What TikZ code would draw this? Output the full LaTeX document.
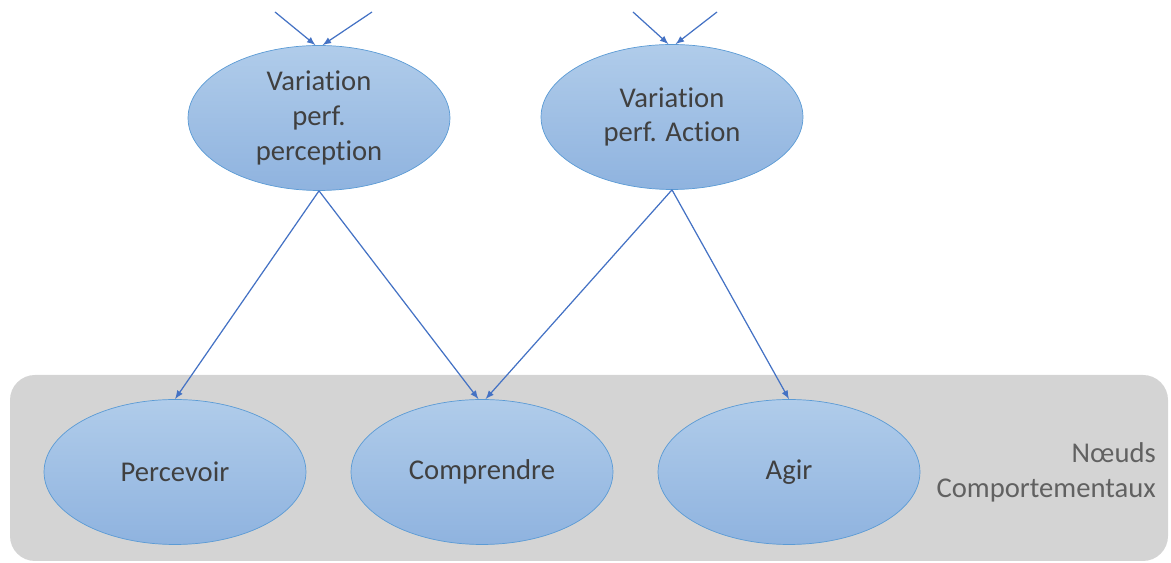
\documentclass[tikz,border=0pt]{standalone}
\usepackage{fontspec}
\setmainfont[Ligatures=NoCommon]{Carlito}
\usetikzlibrary{shapes.geometric}
\definecolor{arrowblue}{HTML}{4472C4}
\definecolor{ellborder}{HTML}{5B9BD5}
\definecolor{elltop}{HTML}{B0CCEA}
\definecolor{ellbot}{HTML}{8FB3DF}
\definecolor{txtgray}{HTML}{404040}
\definecolor{boxgray}{HTML}{D4D4D4}
\tikzset{>=latex}
\tikzset{
  noeud/.style={ellipse, draw=ellborder, thin, top color=elltop, bottom color=ellbot,
    minimum width=5.24cm, minimum height=2.9cm, align=center, text=txtgray,
    font=\fontsize{16.3}{19.8}\selectfont, inner sep=0pt},
  lien/.style={->, color=arrowblue, line width=0.7pt}
}

\begin{document}
\begin{tikzpicture}[x=0.02cm, y=-0.02cm]
\useasboundingbox (0,0) rectangle (1171,563);

% zone comportementale
\fill [boxgray, rounded corners=0.5cm] (10,375) rectangle (1168,561);
\node [anchor=east, align=right, text=black!62, font=\fontsize{16.3}{19.8}\selectfont] (legende) at (1162,472) {N\oe uds\\Comportementaux};

% noeuds de variation
\node [noeud] (varperc) at (319,118) {Variation\\perf.\\perception};
\node [noeud] (varact) at (672,117) {Variation\\perf. Action};

% noeuds comportementaux
\node [noeud] (percevoir) at (175,472) {Percevoir};
\node [noeud] (comprendre) at (482,472) {Comprendre};
\node [noeud] (agir) at (789,472) {Agir};

% entrees venant d'en haut
\coordinate (hautA) at (275,12);
\coordinate (hautB) at (372,12);
\coordinate (hautC) at (633,12);
\coordinate (hautD) at (717,12);
\draw [lien] (hautA) -- ([xshift=-2pt]varperc.north);
\draw [lien] (hautB) -- ([xshift=2pt]varperc.north);
\draw [lien] (hautC) -- ([xshift=-2pt]varact.north);
\draw [lien] (hautD) -- ([xshift=2pt]varact.north);

% liens vers le bas
\draw [lien] (varperc.south) -- (percevoir.north);
\draw [lien] (varperc.south) -- ([xshift=-2pt]comprendre.north);
\draw [lien] (varact.south) -- ([xshift=2pt]comprendre.north);
\draw [lien] (varact.south) -- (agir.north);
\end{tikzpicture}
\end{document}
